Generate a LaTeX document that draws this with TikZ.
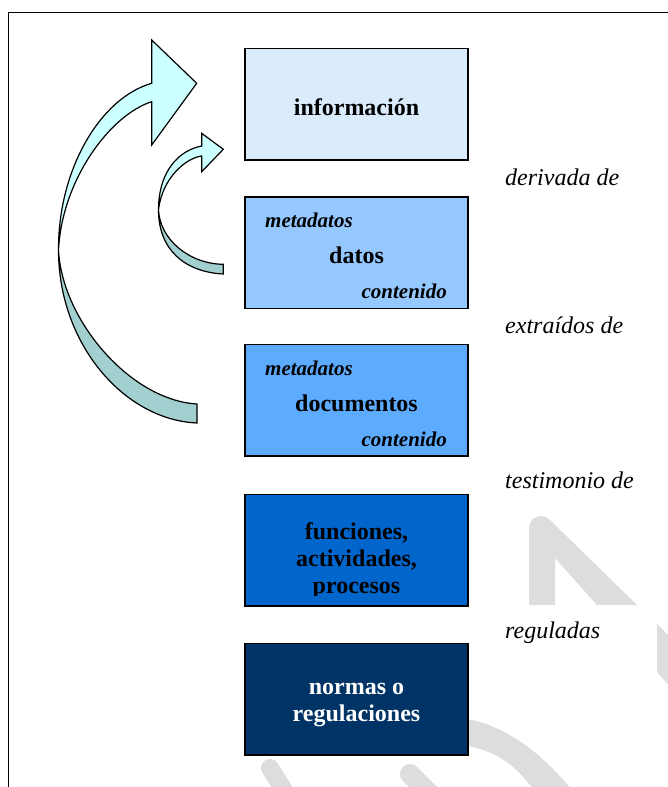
\documentclass[tikz,border=0pt]{standalone}
\usepackage{fontspec}
\setmainfont{Liberation Serif}
\definecolor{infoblue}{HTML}{DAEBFC}
\definecolor{datosblue}{HTML}{94C8FF}
\definecolor{docblue}{HTML}{5CABFF}
\definecolor{funcblue}{HTML}{0066CC}
\definecolor{normblue}{HTML}{003366}
\definecolor{arrowlight}{HTML}{CCFFFF}
\definecolor{arrowdark}{HTML}{A2CFCF}
\definecolor{wmgrey}{HTML}{DDDDDD}
\tikzset{
    box/.style={draw, line width=1.5pt, minimum width=223pt, minimum height=111.5pt, inner sep=0pt},
    boxtext/.style={font=\fontsize{24}{27}\selectfont\bfseries, anchor=base, inner sep=0pt},
    subtext/.style={font=\fontsize{21}{24}\selectfont\bfseries\itshape, inner sep=0pt},
    linktext/.style={font=\fontsize{24}{27}\selectfont\itshape, anchor=base west, inner sep=0pt},
    arrowface/.style={draw, line width=1.2pt, line join=miter},
}
\begin{document}
\begin{tikzpicture}[x=1pt, y=-1pt]
    \useasboundingbox (0,0) rectangle (668,787);

    % Watermark in the background
    \fill[wmgrey] (529,605) -- (529,528) arc[start angle=180, end angle=315, radius=12] -- (637,605) -- (597,605) -- (555,558) -- (555,605) -- cycle;
    \fill[wmgrey] (657,624) -- (720,687) -- (720,743) -- (657,672) -- cycle;
    \fill[wmgrey] (440,717) .. controls (500,715) and (545,755) .. (580,800) -- (540,800) .. controls (515,760) and (490,745) .. (440,743) -- cycle;
    \draw[wmgrey, line width=20, line cap=round] (410,774) -- (440,804);
    \draw[wmgrey, line width=18, line cap=round] (270,768) -- (290,800);

    % Frame
    \draw[line width=1.5] (680,12.5) -| (8.5,800);

    % Big curved arrow (documentos -> informacion)
    \draw[arrowface, fill=arrowdark] (58.5,250) .. controls (58.5,345) and (125,420) .. (197,423) -- (197,404) .. controls (130,400) and (62,320) .. (58.5,250) -- cycle;
    \draw[arrowface, fill=arrowlight] (58.5,250) .. controls (58,170) and (100,98) .. (151.7,83.3) -- (151.7,40) -- (196.7,83.3) -- (151.7,145) -- (151.7,101.7) .. controls (110,115) and (62,180) .. (58.5,250) -- cycle;

    % Small curved arrow (datos -> informacion)
    \draw[arrowface, fill=arrowdark] (158.5,210) .. controls (158.5,250) and (185,272) .. (223.3,274) -- (223.3,264.3) .. controls (190,264) and (160,240) .. (158.5,210) -- cycle;
    \draw[arrowface, fill=arrowlight] (158.5,210) .. controls (158.5,170) and (180,150) .. (201.7,146) -- (201.7,133.3) -- (223.3,149.3) -- (201.7,171.7) -- (201.7,156) .. controls (186,158) and (162,178) .. (158.5,210) -- cycle;

    % Boxes, top to bottom
    \foreach \name/\yc/\col in {info/104/infoblue, datos/252.5/datosblue, docs/400/docblue, func/550/funcblue, norm/699/normblue} {
        \node[box, fill=\col] (\name) at (356.5,\yc) {};
    }

    % Texts in the boxes
    \node[boxtext] (infoT) at (356.5,115) {información};
    \node[subtext, anchor=base west] (datosM) at (265,227) {metadatos};
    \node[boxtext] (datosT) at (356.5,263) {datos};
    \node[subtext, anchor=base east] (datosC) at (447,298) {contenido};
    \node[subtext, anchor=base west] (docsM) at (265,375) {metadatos};
    \node[boxtext] (docsT) at (356.5,411) {documentos};
    \node[subtext, anchor=base east] (docsC) at (447,446) {contenido};
    \begin{scope}
        \clip (245,494) rectangle (468,595);
        \node[boxtext, align=center] (funcT) at (356.5,593) {funciones,\\actividades,\\procesos};
    \end{scope}
    \node[boxtext, align=center, text=white] (normT) at (356.5,721) {normas o\\regulaciones};

    % Links between the levels
    \node[linktext] (derivada) at (505,185) {derivada de};
    \node[linktext] (extraidos) at (505,333) {extraídos de};
    \node[linktext] (testimonio) at (505,488) {testimonio de};
    \node[linktext] (reguladas) at (505,638) {reguladas};
\end{tikzpicture}
\end{document}
